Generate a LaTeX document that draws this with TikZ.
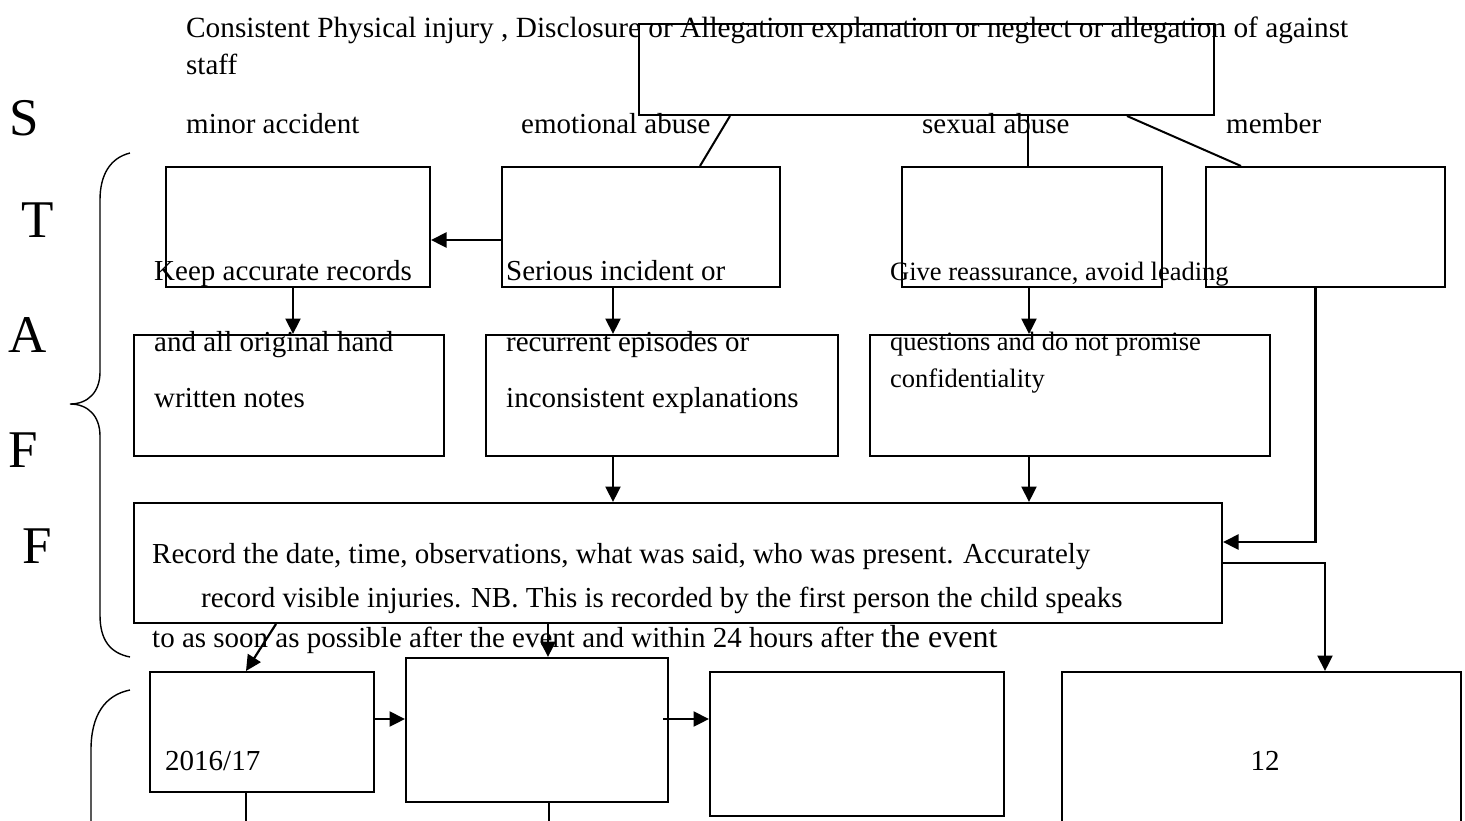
\documentclass[tikz,border=0pt]{standalone}
\usepackage{fontspec}
\setmainfont{Liberation Serif}
\usetikzlibrary{arrows.meta}

\tikzset{
  frame/.style 2 args={draw, line width=2pt, inner sep=0pt, minimum width=#1, minimum height=#2},
  lbl/.style={anchor=base west, inner sep=0pt, font=\fontsize{29}{34}\selectfont},
  small/.style={lbl, font=\fontsize{26.5}{30}\selectfont},
  letter/.style={anchor=base, inner sep=0pt, font=\fontsize{53}{60}\selectfont},
  arr/.style={-{Triangle[length=15.5pt,width=15pt]}, line width=2.2pt},
  link/.style={line width=2pt},
  brace/.style={line width=1.4pt},
}

\begin{document}
\begin{tikzpicture}[x=1pt,y=-1pt]
\clip (0,0) rectangle (1465,820);

% boxes
\node[frame={575}{91}] (hub) at (926.5,69.5) {};
\node[frame={264}{120}] (keep) at (298,227) {};
\node[frame={278}{120}] (serious) at (641,227) {};
\node[frame={260}{120}] (reassure) at (1032,227) {};
\node[frame={239}{120}] (member) at (1325.5,227) {};
\node[frame={310}{121}] (notes) at (289,395.5) {};
\node[frame={352}{121}] (explain) at (662,395.5) {};
\node[frame={400}{121}] (promise) at (1070,395.5) {};
\node[frame={1088}{120}] (record) at (678,563) {};
\node[frame={224}{120}] (year) at (262,732) {};
\node[frame={262}{144}] (midbox) at (537,730) {};
\node[frame={294}{144}] (sidebox) at (857,744) {};
\node[frame={399}{208}] (countbox) at (1261.5,776) {};

% big letters down the side
\node[letter] (ls) at (24,135) {S};
\node[letter] (lt) at (38,237) {T};
\node[letter] (la) at (28,352) {A};
\node[letter] (lf) at (23,467) {F};
\node[letter] (lff) at (37,563) {F};

% texts
\node[lbl, font=\fontsize{29.3}{34}\selectfont] (head) at (186,37) {Consistent Physical injury , Disclosure or Allegation explanation or neglect or allegation of against};
\node[lbl] (headb) at (186,74) {staff};
\node[lbl] (minor) at (186,133) {minor accident};
\node[lbl] (emotional) at (521,133) {emotional abuse};
\node[lbl] (sexual) at (922,133) {sexual abuse};
\node[lbl] (memb) at (1226,133) {member};
\node[lbl] (keepa) at (154,280) {Keep accurate records};
\node[lbl] (keepb) at (154,351) {and all original hand};
\node[lbl] (keepc) at (154,407) {written notes};
\node[lbl] (seriousa) at (506,280) {Serious incident or};
\node[lbl] (seriousb) at (506,351) {recurrent episodes or};
\node[lbl] (seriousc) at (506,407) {inconsistent explanations};
\node[small] (givea) at (890,280) {Give reassurance, avoid leading};
\node[small] (giveb) at (890,350) {questions and do not promise};
\node[small] (givec) at (890,387) {confidentiality};
\node[lbl] (recorda) at (152,563) {Record the date, time, observations, what was said, who was present. Accurately};
\node[lbl] (recordb) at (201,607) {record visible injuries. NB. This is recorded by the first person the child speaks};
\node[lbl] (recordc) at (152,647) {to as soon as possible after the event and within 24 hours after {\fontsize{32}{34}\selectfont the event}};
\node[lbl] (yeartext) at (165,770) {2016/17};
\node[lbl, anchor=base] (count) at (1265,770) {12};

% hub to the first row
\coordinate (h1) at ([xshift=92pt]hub.south west);
\coordinate (h2) at ([xshift=390pt]hub.south west);
\coordinate (h3) at ([xshift=489pt]hub.south west);
\draw[link] (h1) -- ([xshift=59pt]serious.north);
\draw[link] (h2) -- (h2 |- reassure.north);
\draw[link] (h3) -- ([xshift=-84.5pt]member.north);

% first row to second row
\draw[arr] ([yshift=-13pt]serious.west) -- ([yshift=-13pt]keep.east);
\coordinate (k1) at ([xshift=-5pt]keep.south);
\coordinate (s1) at ([xshift=-28pt]serious.south);
\coordinate (r1) at ([xshift=-3pt]reassure.south);
\draw[arr] (k1) -- (k1 |- notes.north);
\draw[arr] (s1) -- (s1 |- explain.north);
\draw[arr] (r1) -- (r1 |- promise.north);

% into the record box
\draw[arr] (s1 |- explain.south) -- (s1 |- record.north);
\draw[arr] (r1 |- promise.south) -- (r1 |- record.north);
\coordinate (m1) at ([xshift=-10pt]member.south);
\coordinate (m2) at ([yshift=21pt]record.east);
\draw[arr] (m1) |- (m2);

% record box to the bottom row
\coordinate (c1) at ([xshift=63.5pt]countbox.north);
\draw[arr] (record.east) -| (c1);
\draw[arr] ([xshift=143pt]record.south west) -- ([xshift=-16pt]year.north);
\coordinate (c2) at ([xshift=415pt]record.south west);
\draw[arr] (c2) -- (c2 |- midbox.north);
\coordinate (y1) at ([yshift=13pt]year.east);
\draw[arr] (y1) -- (y1 -| midbox.west);
\coordinate (n1) at ([yshift=11pt]midbox.east);
\coordinate (n0) at ([xshift=-6pt]n1);
\draw[arr] (n0) -- (n1 -| sidebox.west);

% lines that run off the page
\coordinate (y2) at ([xshift=-16pt]year.south);
\coordinate (y3) at ([yshift=-40pt]y2);
\coordinate (n2) at ([xshift=12pt]midbox.south);
\coordinate (n3) at ([yshift=-40pt]n2);
\draw[link] (y2) -- (y3);
\draw[link] (n2) -- (n3);

% braces
\draw[brace] (130,153) .. controls (110,158) and (100,175) .. (100,200) -- (100,372)
  .. controls (100,392) and (88,404) .. (70,404) .. controls (88,404) and (100,416) .. (100,436)
  -- (100,615) .. controls (100,640) and (110,653) .. (130,657);
\draw[brace] (130,690) .. controls (105,695) and (91,715) .. (91,750) -- (91,830);
\end{tikzpicture}
\end{document}
